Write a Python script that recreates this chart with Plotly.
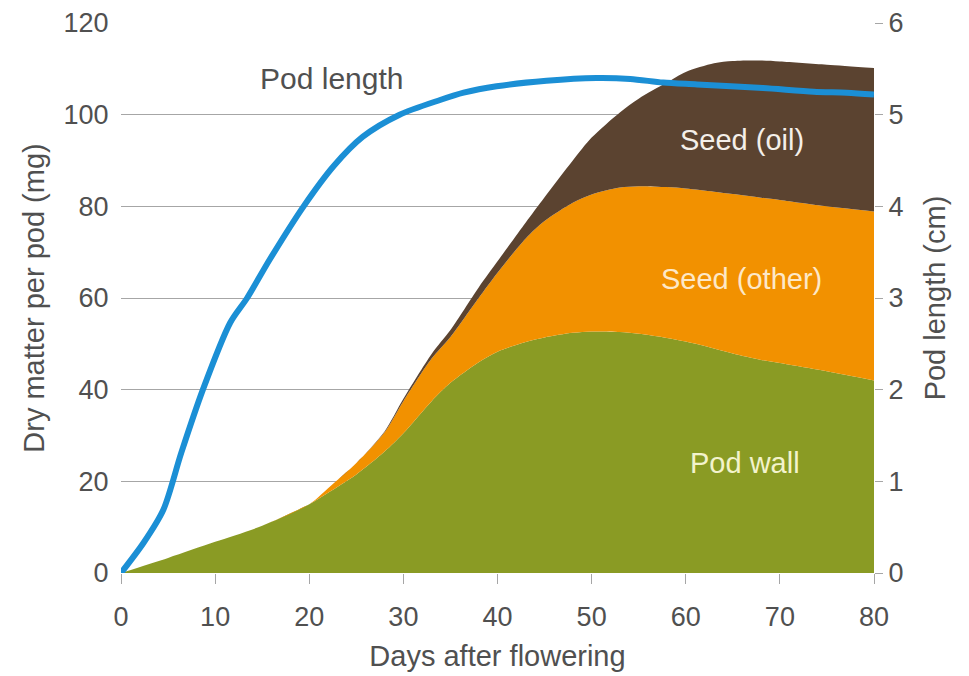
import plotly.graph_objects as go

# ---- data ----
days = [0, 5, 10, 15, 20, 22, 25, 28, 30, 33, 35, 38, 40, 43, 45, 48, 50,
        53, 55, 58, 60, 63, 65, 68, 70, 75, 80]
pod_wall = [0, 3.3, 6.8, 10.3, 15.0, 17.5, 21.5, 26.5, 30.5, 37.5, 41.5, 46.0, 48.3,
            50.4, 51.4, 52.4, 52.7, 52.6, 52.2, 51.3, 50.5, 49.0, 47.9, 46.5, 45.8, 44.0, 42.0]
seed_other = [0, 0, 0, 0, 0, 1.0, 2.5, 4.2, 7.0, 9.3, 10.0, 14.0, 17.2,
              22.6, 25.4, 28.4, 29.9, 31.5, 32.2, 32.9, 33.4, 34.2, 34.8, 35.4, 35.6, 36.0, 36.9]
seed_oil = [0, 0, 0, 0, 0, 0, 0, 0.2, 0.5, 1.0, 1.5, 2.3, 2.5,
            3.5, 5.2, 9.2, 12.4, 16.4, 19.1, 22.8, 25.4, 28.0, 29.0, 29.9, 30.2, 30.9, 31.3]

len_days = [0, 2.4, 4.5, 6.4, 8.7, 11.6, 13.4, 15.8, 19.4, 22.6, 25.7,
            29.6, 33.9, 36.4, 39.9, 45.2, 50.5, 54.1, 57.6, 61.2, 68.2, 73.6, 77.1, 80]
pod_length = [0, 0.33, 0.69, 1.31, 2.0, 2.73, 3.0, 3.42, 4.0, 4.44, 4.76,
              5.0, 5.16, 5.24, 5.31, 5.37, 5.40, 5.39, 5.35, 5.33, 5.29, 5.25, 5.24, 5.22]

x_ticks = [0, 10, 20, 30, 40, 50, 60, 70, 80]
y_ticks = [0, 20, 40, 60, 80, 100, 120]
y2_ticks = [0, 1, 2, 3, 4, 5, 6]

GREEN = "#8a9b24"
ORANGE = "#f29100"
BROWN = "#5b4330"
BLUE = "#1b8fd5"
TXT = "#505050"
GRID = "#a6a6a6"
FONT = "Liberation Sans, Arial, sans-serif"

fig = go.Figure()
for name, vals, col in [("Pod wall", pod_wall, GREEN),
                        ("Seed (other)", seed_other, ORANGE),
                        ("Seed (oil)", seed_oil, BROWN)]:
    fig.add_trace(go.Scatter(
        x=days, y=vals, name=name, stackgroup="dm", mode="lines",
        line=dict(width=0, shape="spline", smoothing=0.8, color=col),
        fillcolor=col, showlegend=False))

fig.add_trace(go.Scatter(
    x=len_days, y=pod_length, name="Pod length", mode="lines", yaxis="y2",
    line=dict(color=BLUE, width=6, shape="spline", smoothing=0.8),
    showlegend=False))

fig.update_layout(
    width=961, height=668,
    margin=dict(l=113, r=95, t=15, b=103, autoexpand=False),
    paper_bgcolor="white", plot_bgcolor="white",
    font=dict(family=FONT, color=TXT, size=27),
    xaxis=dict(range=[0, 80], tickvals=x_ticks, showgrid=False, zeroline=False,
               showline=False, ticks="outside", ticklen=10, tickcolor=GRID,
               tickwidth=1, ticklabelstandoff=10, automargin=False,
               title=dict(text="Days after flowering", standoff=14,
                          font=dict(size=29, color=TXT))),
    yaxis=dict(range=[0, 120], tickvals=y_ticks, showgrid=True, gridcolor=GRID,
               gridwidth=1, zeroline=False, showline=False, ticks="outside",
               ticklen=6, tickcolor="rgba(0,0,0,0)", automargin=False,
               title=dict(text="Dry matter per pod (mg)", standoff=10,
                          font=dict(size=29, color=TXT))),
    yaxis2=dict(range=[0, 6], tickvals=y2_ticks, overlaying="y", side="right",
                showgrid=False, zeroline=False, showline=False, ticks="outside",
                ticklen=8, tickcolor=GRID, tickwidth=1, automargin=False,
                title=dict(text="Pod length (cm)", standoff=22,
                           font=dict(size=29, color=TXT))),
    annotations=[
        dict(x=22.4, y=5.40, xref="x", yref="y2", text="Pod length", showarrow=False,
             font=dict(size=30, color=TXT)),
        dict(x=66.0, y=94.5, xref="x", yref="y", text="Seed (oil)", showarrow=False,
             font=dict(size=29, color="#f4efe9")),
        dict(x=65.9, y=64.2, xref="x", yref="y", text="Seed (other)", showarrow=False,
             font=dict(size=29, color="#fde8c8")),
        dict(x=66.3, y=24.0, xref="x", yref="y", text="Pod wall", showarrow=False,
             font=dict(size=29, color="#f3f3cc")),
    ],
)

fig.write_html("out.html")
